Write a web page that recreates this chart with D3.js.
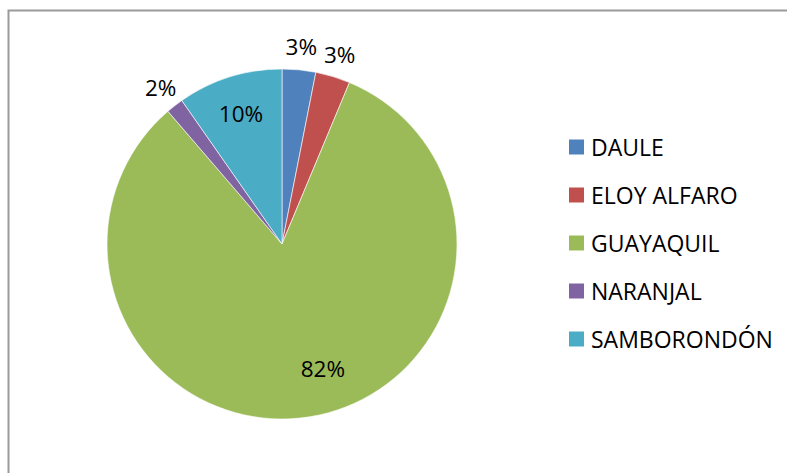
<!DOCTYPE html>
<html>
<head>
<meta charset="utf-8">
<script src="https://cdn.jsdelivr.net/npm/d3@7"></script>
<style>
  body { margin: 0; background: #fff; }
  text { font-family: "Open Sans", "Liberation Sans", sans-serif; fill: #000; }
</style>
</head>
<body>
<svg id="chart"></svg>
<script>
const cantones = ["DAULE", "ELOY ALFARO", "GUAYAQUIL", "NARANJAL", "SAMBORONDÓN"];
const porcentajes = [3.1, 3.2, 82.4, 1.6, 9.7];
const etiquetas = ["3%", "3%", "82%", "2%", "10%"];
const colores = ["#4F81BD", "#C0504D", "#9BBB59", "#8064A2", "#4BACC6"];

const width = 787, height = 473;
const cx = 282, cy = 244, radius = 175;

const svg = d3.select("#chart")
  .attr("width", width)
  .attr("height", height);

// marco del grafico (se corta a la derecha y abajo)
svg.append("rect")
  .attr("x", 8.5)
  .attr("y", 10.5)
  .attr("width", width + 20)
  .attr("height", height + 20)
  .attr("fill", "none")
  .attr("stroke", "#9a9a9a")
  .attr("stroke-width", 2);

const data = cantones.map((c, i) => ({ name: c, value: porcentajes[i], label: etiquetas[i], color: colores[i] }));

const pie = d3.pie().sort(null).value(d => d.value);
const arcs = pie(data);

const arc = d3.arc().innerRadius(0).outerRadius(radius);
const outsideArc = d3.arc().innerRadius(radius + 23).outerRadius(radius + 23);
const insideArc = d3.arc().innerRadius(radius * 0.78).outerRadius(radius * 0.78);

const g = svg.append("g").attr("transform", `translate(${cx},${cy})`);

g.selectAll("path")
  .data(arcs)
  .enter()
  .append("path")
  .attr("d", arc)
  .attr("fill", d => d.data.color)
  .attr("stroke", "#fff")
  .attr("stroke-width", 0.6);

g.selectAll("text.lbl")
  .data(arcs)
  .enter()
  .append("text")
  .attr("class", "lbl")
  .attr("text-anchor", "middle")
  .attr("dominant-baseline", "central")
  .attr("font-size", 22.5)
  .attr("transform", d => {
    const big = d.data.value > 5;
    let p = big ? insideArc.centroid(d) : outsideArc.centroid(d);
    if (d.data.value > 50) {
      // etiqueta grande: un poco desplazada hacia el borde derecho
      const a = (d.startAngle + d.endAngle) / 2 - 0.16;
      p = [Math.sin(a) * radius * 0.75, -Math.cos(a) * radius * 0.75];
    }
    return `translate(${p[0]},${p[1]})`;
  })
  .text(d => d.data.label);

// leyenda
const legendY = d3.scalePoint().domain(cantones).range([147, 339]);

const legend = svg.append("g")
  .selectAll("g")
  .data(data)
  .enter()
  .append("g")
  .attr("transform", d => `translate(569,${legendY(d.name)})`);

legend.append("rect")
  .attr("x", 0)
  .attr("y", -7.5)
  .attr("width", 15)
  .attr("height", 15)
  .attr("fill", d => d.color);

legend.append("text")
  .attr("x", 22)
  .attr("y", 0)
  .attr("dominant-baseline", "central")
  .attr("font-size", 23)
  .text(d => d.name);
</script>
</body>
</html>
